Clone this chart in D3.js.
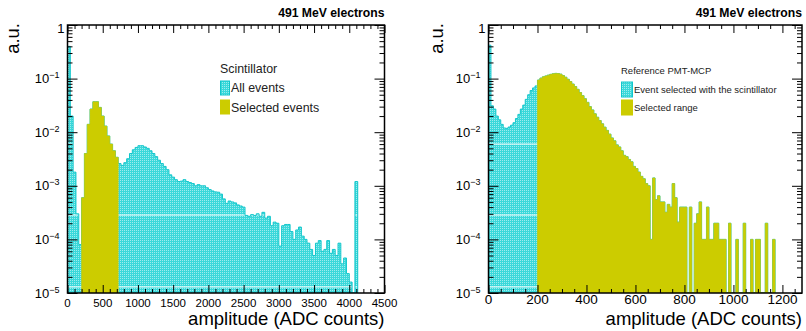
<!DOCTYPE html>
<html>
<head>
<meta charset="utf-8">
<script src="https://cdn.jsdelivr.net/npm/d3@7"></script>
<style>
body { margin: 0; background: #fff; }
svg text { font-family: "Liberation Sans", Arial, Helvetica, sans-serif; }
</style>
</head>
<body>
<svg id="chart" width="806" height="331"></svg>
<script>

// ---- data (a.u., log scale) ----
var title = "491 MeV electrons";

// scintillator amplitude, bins of 40 ADC counts starting at 0
var scintBinWidth = 40;
var scintAll = [
  0.4, 0.02, 1.8e-3, 3e-4, 8e-5,
  6e-4, 4e-3, 0.014, 0.027, 0.037, 0.037, 0.029, 0.020, 0.013, 0.0085, 0.0060, 0.0045, 0.0034,
  2.6e-3, 2.4e-3, 2.7e-3, 3.2e-3, 4.0e-3, 4.7e-3, 5.2e-3, 5.6e-3, 5.6e-3, 5.3e-3,
  5.0e-3, 4.5e-3, 4.0e-3, 3.5e-3, 3.0e-3, 2.6e-3, 2.3e-3, 2.0e-3, 1.6e-3, 1.45e-3,
  1.3e-3, 1.2e-3, 1.22e-3, 1.3e-3, 1.2e-3, 1.15e-3, 1.1e-3, 1.0e-3, 1.05e-3, 1.0e-3,
  1.0e-3, 9.2e-4, 8.5e-4, 8.0e-4, 7.7e-4, 7.6e-4, 7.0e-4, 5.7e-4, 4.7e-4, 5.2e-4,
  5.0e-4, 4.8e-4, 4.4e-4, 4.2e-4, 4.0e-4, 2.8e-4, 2.7e-4, 2.9e-4, 2.8e-4, 3.0e-4,
  2.7e-4, 3.2e-4, 2.5e-4, 2.7e-4, 1.8e-4, 2.1e-4, 2.0e-4, 7.5e-5, 1.8e-4, 1.9e-4,
  1.9e-4, 1.4e-4, 1.0e-4, 1.5e-4, 1.7e-4, 1.15e-4, 1.0e-4, 8.5e-5, 6.5e-5, 5.0e-5,
  8.5e-5, 9.5e-5, 6.0e-5, 6.5e-5, 9.5e-5, 5.5e-5, 6.5e-5, 5.0e-5, 8.5e-5, 3.5e-5,
  4.5e-5, 2.3e-5, 1.6e-5, 0, 1.2e-3
];
var scintSelected = [200, 720];

// reference PMT-MCP amplitude, bins of 10 ADC counts starting at 0
var mcpBinWidth = 10;
var mcpEvents = [
  0.42, 0.031, 0.027, 0.020, 0.017, 0.014, 0.012, 0.0118, 0.0125, 0.0135,
  0.015, 0.018, 0.0215, 0.027, 0.032, 0.041, 0.050, 0.060, 0.067, 0.073,
  0.094, 0.102, 0.108, 0.112, 0.116, 0.120, 0.123, 0.125, 0.124, 0.121,
  0.114, 0.106, 0.097, 0.088, 0.079, 0.071, 0.063, 0.055, 0.048, 0.042,
  0.036, 0.030, 0.026, 0.022, 0.019, 0.0165, 0.0143, 0.0124, 0.0108, 0.0092,
  0.0078, 0.0069, 0.0058, 0.0053, 0.0045, 0.0037, 0.0035, 0.0031, 0.0028, 0.0023,
  0.0021, 0.0018, 0.0015, 0.00135, 0.0011, 0.0010, 1.0e-4, 1.4e-3, 5.5e-4, 6.5e-4,
  5.0e-4, 5.0e-4, 3.2e-4, 4.5e-4, 4.0e-4, 1.1e-3, 6.0e-4, 2.1e-4, 4.0e-4, 4.0e-4,
  4.0e-4, 0, 4.0e-4, 0, 2e-4, 3e-4, 5e-4, 1e-4, 1e-4, 4e-4,
  1e-4, 1e-4, 2e-4, 2e-4, 1e-4, 1e-4, 1e-4, 0, 2e-4, 0,
  0, 1e-4, 0, 0, 2e-4, 0, 0, 1e-4, 0, 1e-4,
  1e-4, 0, 0, 2e-4, 0, 0, 1e-4
];
var mcpSelected = [200, 1280];

var scintTicks = [0, 500, 1000, 1500, 2000, 2500, 3000, 3500, 4000, 4500];
var mcpTicks = [0, 200, 400, 600, 800, 1000, 1200];
var decades = [0, -1, -2, -3, -4, -5];
var seamLevels = [6e-3, 2.85e-4, 1.3e-5];   // white seams of the hatch rendering

var cyanLine = "#12c6cb",
    cyanFill = "#3ad8da",
    yellow = "#cccc00";

var svg = d3.select("#chart");
var defs = svg.append("defs");

// fine dotted hatch like the ROOT fill style
var pat = defs.append("pattern")
    .attr("id", "hatch")
    .attr("patternUnits", "userSpaceOnUse")
    .attr("width", 2).attr("height", 2);
pat.append("rect").attr("width", 2).attr("height", 2).attr("fill", cyanFill);
pat.append("rect").attr("width", 1).attr("height", 1).attr("fill", "#fff").attr("fill-opacity", 0.5);

var panels = [
  { id: "scint", left: 67.5, right: 384.5, domain: [0, 4500], bw: scintBinWidth,
    values: scintAll, sel: scintSelected, ticks: scintTicks, minor: 100,
    labelSize: 11.5, labelBase: 306.5, auX: 18.5,
    legend: { x: 220, title: "Scintillator", titleY: 73, size: 12.4, boxW: 9, boxH: 14,
              rows: ["All events", "Selected events"], rowY: [81, 100], textY: [92, 111.5] } },
  { id: "mcp", left: 488.5, right: 802, domain: [0, 1280], bw: mcpBinWidth,
    values: mcpEvents, sel: mcpSelected, ticks: mcpTicks, minor: 50,
    labelSize: 13.5, labelBase: 303.5, auX: 443,
    legend: { x: 621, title: "Reference PMT-MCP", titleY: 74, size: 9.5, boxW: 11, boxH: 15,
              rows: ["Event selected with the scintillator", "Selected range"], rowY: [82, 100], textY: [92.7, 111] } }
];

var plotTop = 25, plotBottom = 293;

panels.forEach(function(p) {
  var x = d3.scaleLinear().domain(p.domain).range([p.left, p.right]);
  var y = d3.scaleLog().domain([1e-5, 1]).range([plotBottom, plotTop]);
  var g = svg.append("g");

  defs.append("clipPath").attr("id", "frame-" + p.id)
    .append("rect").attr("x", p.left).attr("y", plotTop)
    .attr("width", p.right - p.left).attr("height", plotBottom - plotTop);

  var bins = p.values.map(function(v, i) { return { x0: i * p.bw, x1: (i + 1) * p.bw, v: v }; });

  var area = d3.area()
      .curve(d3.curveStepAfter)
      .x(function(d) { return x(d[0]); })
      .y0(y(1e-5))
      .y1(function(d) { return y(Math.max(d[1], 1e-5)); });

  function steps(list) {
    var pts = list.map(function(b) { return [b.x0, b.v]; });
    var last = list[list.length - 1];
    pts.push([last.x1, last.v]);
    return pts;
  }

  var plot = g.append("g").attr("clip-path", "url(#frame-" + p.id + ")");

  var allPath = area(steps(bins));
  defs.append("clipPath").attr("id", "hist-" + p.id).append("path").attr("d", allPath);

  plot.append("path").attr("d", allPath)
    .attr("fill", "url(#hatch)").attr("stroke", "none");

  plot.append("g").attr("clip-path", "url(#hist-" + p.id + ")")
    .selectAll("line").data(seamLevels).enter().append("line")
    .attr("x1", p.left).attr("x2", p.right)
    .attr("y1", function(d) { return y(d); }).attr("y2", function(d) { return y(d); })
    .attr("stroke", "#fff").attr("stroke-width", 1);

  plot.append("path").attr("d", allPath)
    .attr("fill", "none").attr("stroke", cyanLine).attr("stroke-width", 1);

  var selBins = bins.filter(function(b) { return b.x0 >= p.sel[0] && b.x1 <= p.sel[1]; });
  plot.append("path").attr("d", area(steps(selBins)))
    .attr("fill", yellow).attr("stroke", yellow).attr("stroke-width", 0.6);

  // ---- ticks (ROOT style: inside, all four sides) ----
  var minorX = d3.range(p.domain[0], p.domain[1] + 0.001, p.minor)
      .filter(function(v) { return p.ticks.indexOf(v) < 0; });
  var minorY = [];
  decades.forEach(function(e) {
    if (e > -5) for (var k = 2; k <= 9; k++) minorY.push(k * Math.pow(10, e - 1));
  });
  var majorY = decades.map(function(e) { return Math.pow(10, e); });

  function axis(gen, vals, size, tr) {
    var a = g.append("g").attr("transform", tr)
      .call(gen.tickValues(vals).tickSize(size).tickFormat(""));
    a.select(".domain").remove();
    a.selectAll("line").attr("stroke", "#000").attr("stroke-width", 1);
  }
  axis(d3.axisBottom(x), p.ticks, -8, "translate(0," + plotBottom + ")");
  axis(d3.axisBottom(x), minorX, -4, "translate(0," + plotBottom + ")");
  axis(d3.axisTop(x), p.ticks, -8, "translate(0," + plotTop + ")");
  axis(d3.axisTop(x), minorX, -4, "translate(0," + plotTop + ")");
  axis(d3.axisLeft(y), majorY, -10, "translate(" + p.left + ",0)");
  axis(d3.axisLeft(y), minorY, -5, "translate(" + p.left + ",0)");
  axis(d3.axisRight(y), majorY, -10, "translate(" + p.right + ",0)");
  axis(d3.axisRight(y), minorY, -5, "translate(" + p.right + ",0)");

  g.append("rect")
    .attr("x", p.left).attr("y", plotTop)
    .attr("width", p.right - p.left).attr("height", plotBottom - plotTop)
    .attr("fill", "none").attr("stroke", "#000").attr("stroke-width", 1.5);

  // ---- labels ----
  g.selectAll(".xl").data(p.ticks).enter().append("text")
    .attr("x", function(d) { return x(d); })
    .attr("y", p.labelBase)
    .attr("text-anchor", "middle")
    .attr("font-size", p.labelSize)
    .text(function(d) { return d; });

  decades.forEach(function(e) {
    var t = g.append("text")
      .attr("y", y(Math.pow(10, e)) + 4.5)
      .attr("text-anchor", "end")
      .attr("font-size", 13);
    if (e === 0) {
      t.attr("x", p.left - 3).attr("y", y(1) + 7.5).text("1");
    } else {
      t.attr("x", p.left - 8);
      t.append("tspan").text("10");
      t.append("tspan").attr("dy", -5).attr("font-size", 9).text("\u2212" + (-e));
    }
  });

  g.append("text")
    .attr("transform", "translate(" + p.auX + "," + 23 + ") rotate(-90)")
    .attr("text-anchor", "end")
    .attr("font-size", 18.5)
    .text("a.u.");

  g.append("text")
    .attr("x", p.right).attr("y", 325)
    .attr("text-anchor", "end")
    .attr("font-size", 18.5)
    .text("amplitude (ADC counts)");

  g.append("text")
    .attr("x", p.right).attr("y", 17)
    .attr("text-anchor", "end")
    .attr("font-size", 12.2).attr("font-weight", "bold")
    .text(title);

  // ---- legend ----
  var L = p.legend;
  g.append("text").attr("x", L.x).attr("y", L.titleY)
    .attr("font-size", L.size).attr("fill", "#222").text(L.title);
  L.rows.forEach(function(r, i) {
    g.append("rect")
      .attr("x", L.x + 0.5).attr("y", L.rowY[i])
      .attr("width", L.boxW).attr("height", L.boxH)
      .attr("fill", i === 0 ? "url(#hatch)" : yellow)
      .attr("stroke", i === 0 ? cyanLine : yellow).attr("stroke-width", 1);
    g.append("text")
      .attr("x", L.x + L.boxW + 2).attr("y", L.textY[i])
      .attr("font-size", L.size).attr("fill", "#222").text(r);
  });
});

</script>
</body>
</html>
